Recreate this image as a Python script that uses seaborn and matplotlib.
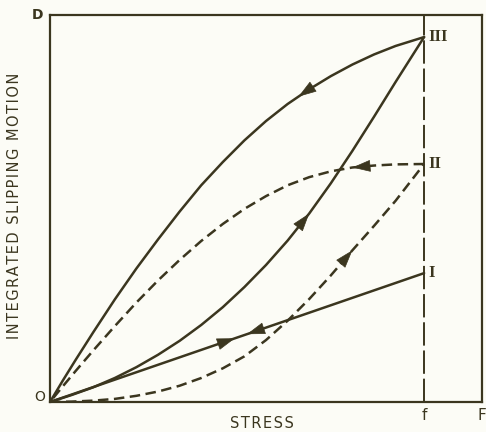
import numpy as np
import pandas as pd
import matplotlib
matplotlib.use("Agg")
import matplotlib.pyplot as plt
import seaborn as sns

INK = "#3b361f"
PAPER = "#fcfcf6"

# stress at the turning point (f); full scale F = 100
f_stress = 86.6

# curve I: elastic, same path up and down
i_x = [0, 42.8, 45.6, 86.6]
i_y = [0, 16.46, 17.53, 33.3]

# curve II: loading (lower dashed)
ii_up_x = [0, 5, 10, 15, 20, 25, 30, 35, 40, 45, 50, 55, 60, 65, 70, 75, 80, 86.6]
ii_up_y = [0, 0.1, 0.35, 0.8, 1.6, 2.7, 4.2, 6.2, 8.7, 11.8, 16.0, 21.0, 26.6,
           32.7, 39.2, 45.5, 52.0, 61.5]
# curve II: unloading (upper dashed), read from f back to 0
ii_down_x = [86.6, 80, 75, 70, 65, 60, 55, 50, 45, 40, 35, 30, 25, 20, 15, 10, 6, 3, 0]
ii_down_y = [61.5, 61.4, 61.1, 60.6, 59.6, 58.1, 56.0, 53.2, 49.9, 46.0, 41.6, 36.7,
             31.4, 25.7, 19.6, 13.3, 8.1, 4.1, 0]

# curve III: loading (middle solid)
iii_up_x = [0, 5, 10, 15, 20, 25, 30, 35, 40, 45, 50, 55, 60, 65, 70, 75, 80, 86.6]
iii_up_y = [0, 1.8, 3.8, 6.2, 9.0, 12.2, 15.8, 19.9, 24.5, 29.7, 35.4, 41.7, 48.7,
            56.5, 64.9, 73.7, 82.7, 94.3]
# curve III: unloading (upper solid), read from f back to 0
iii_down_x = [86.6, 80, 75, 70, 65, 60, 57.5, 55, 50, 45, 40, 35, 30, 25, 20, 15, 10, 6, 3, 0]
iii_down_y = [94.3, 92.0, 89.8, 87.2, 84.2, 80.8, 78.9, 77.0, 72.6, 67.6, 62.0, 56.0,
              49.2, 42.0, 34.5, 26.5, 18.0, 11.0, 5.6, 0]

curve_labels = ["I", "II", "III"]

# (x, y, [(vertex with arrow head, +1 along list / -1 against)], dashed)
curves = [
    (i_x, i_y, [(1, 1), (2, -1)], False),
    (ii_up_x, ii_up_y, [(14, 1)], True),
    (ii_down_x, ii_down_y, [(3, 1)], True),
    (iii_up_x, iii_up_y, [(12, 1)], False),
    (iii_down_x, iii_down_y, [(6, 1)], False),
]

sns.set_style("white")
plt.rcParams["font.family"] = ["DejaVu Sans"]

fig = plt.figure(figsize=(4.86, 4.32), dpi=100, facecolor=PAPER)
ax = fig.add_axes([50 / 486, 1 - 402 / 432, 432 / 486, 387 / 432])
ax.set_facecolor(PAPER)

for xs, ys, arrows, dashed in curves:
    df = pd.DataFrame({"stress": xs, "motion": ys})
    sns.lineplot(data=df, x="stress", y="motion", sort=False, estimator=None,
                 color=INK, lw=1.8, ax=ax)
    if dashed:
        ax.lines[-1].set_dashes((4.2, 2.2))
    for k, d in arrows:
        tip = np.array([xs[k], ys[k]])
        prev = np.array([xs[k - d], ys[k - d]])
        step = (tip - prev) / np.hypot(*(tip - prev))
        ax.annotate("", xy=tip, xytext=tip - step * 3.0,
                    arrowprops=dict(arrowstyle="-|>,head_length=0.85,head_width=0.28",
                                    mutation_scale=14, color=INK, lw=0.5,
                                    shrinkA=0, shrinkB=0))

# stress f marker line
ax.axvline(f_stress, color=INK, lw=1.4, dashes=(12, 2.5))

ax.set_xlim(0, 100)
ax.set_ylim(0, 100)
ax.set_xticks([])
ax.set_yticks([])
ax.set_xlabel("")
ax.set_ylabel("")
for s in ax.spines.values():
    s.set_visible(True)
    s.set_color(INK)
    s.set_linewidth(1.6)

ends = [i_y[-1], ii_up_y[-1], iii_up_y[-1]]
for lab, yv in zip(curve_labels, ends):
    ax.text(f_stress + 1.0, yv, lab, ha="left", va="center", color=INK,
            fontsize=12, fontweight="bold", family="Liberation Serif")

ax.text(-3.0, 100, "D", ha="center", va="center", color=INK, fontsize=10, fontweight="bold")
ax.text(-2.4, 1.2, "O", ha="center", va="center", color=INK, fontsize=10)
ax.text(f_stress, -3.4, "f", ha="center", va="center", color=INK, fontsize=11)
ax.text(100, -3.4, "F", ha="center", va="center", color=INK, fontsize=11)

hair = "\u200a"
fig.text(262 / 486, 1 - 423 / 432, hair.join("STRESS"), ha="center", va="center",
         color=INK, fontsize=10.5)
fig.text(15 / 486, 1 - 206 / 432, hair.join("INTEGRATED SLIPPING MOTION"),
         ha="center", va="center", rotation=90, color=INK, fontsize=10.5)

fig.savefig("out.png", dpi=100, facecolor=PAPER)
